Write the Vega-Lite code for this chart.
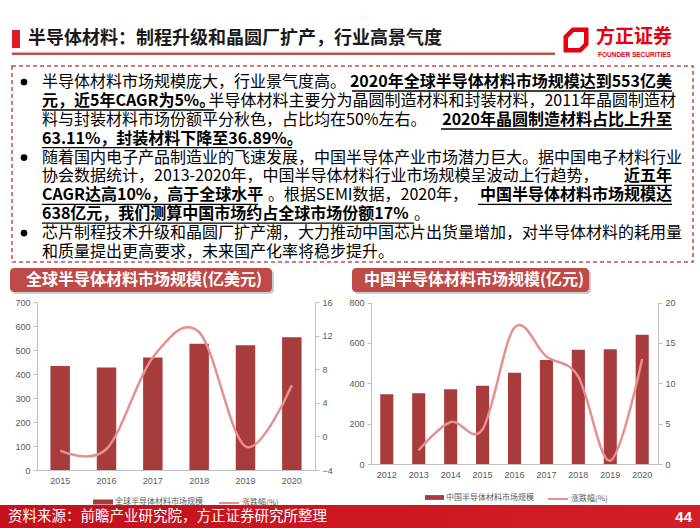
{
  "$schema": "https://vega.github.io/schema/vega-lite/v6.json",
  "width": 700,
  "height": 528,
  "autosize": {"type": "none"},
  "padding": 0,
  "background": "#FFFFFF",
  "config": {
    "view": {"stroke": null},
    "font": "Noto Sans CJK SC",
    "axis": {"grid": false, "domainColor": "#BFBFBF", "tickColor": "#BFBFBF", "labelColor": "#595959", "labelFont": "Liberation Sans", "labelFontSize": 9},
    "legend": {"labelFont": "Noto Sans CJK SC", "labelFontSize": 8, "labelColor": "#595959", "padding": 0, "labelOffset": 2}
  },
  "datasets": {
    "global": [
      {"year": "2015", "size": 433, "growth": -1.7},
      {"year": "2016", "size": 427, "growth": -1.5},
      {"year": "2017", "size": 469, "growth": 9.4},
      {"year": "2018", "size": 526, "growth": 12.4},
      {"year": "2019", "size": 520, "growth": -1.2},
      {"year": "2020", "size": 553, "growth": 6.1}
    ],
    "china": [
      {"year": "2012", "size": 345, "growth": null},
      {"year": "2013", "size": 351, "growth": 1.7},
      {"year": "2014", "size": 370, "growth": 5.2},
      {"year": "2015", "size": 388, "growth": 4.3},
      {"year": "2016", "size": 452, "growth": 16.9},
      {"year": "2017", "size": 515, "growth": 13.3},
      {"year": "2018", "size": 566, "growth": 10.8},
      {"year": "2019", "size": 568, "growth": 0.4},
      {"year": "2020", "size": 640, "growth": 13.0}
    ],
    "boldLeft": [
      {"line": 2, "text": "元，近5年CAGR为5%。"},
      {"line": 4, "text": "63.11%，封装材料下降至36.89%。"},
      {"line": 7, "text": "CAGR达高10%，高于全球水平"},
      {"line": 8, "text": "638亿元，我们测算中国市场约占全球市场份额17%"}
    ],
    "boldRight": [
      {"line": 1, "text": "2020年全球半导体材料市场规模达到553亿美"},
      {"line": 3, "text": "2020年晶圆制造材料占比上升至"},
      {"line": 6, "text": "近五年"},
      {"line": 7, "text": "中国半导体材料市场规模达"}
    ],
    "regLeft": [
      {"line": 1, "text": "半导体材料市场规模庞大，行业景气度高。"},
      {"line": 3, "text": "料与封装材料市场份额平分秋色，占比均在50%左右。"},
      {"line": 5, "text": "随着国内电子产品制造业的飞速发展，中国半导体产业市场潜力巨大。据中国电子材料行业"},
      {"line": 6, "text": "协会数据统计，2013-2020年，中国半导体材料行业市场规模呈波动上行趋势，"},
      {"line": 9, "text": "芯片制程技术升级和晶圆厂扩产潮，大力推动中国芯片出货量增加，对半导体材料的耗用量"},
      {"line": 10, "text": "和质量提出更高要求，未来国产化率将稳步提升。"}
    ],
    "regRight": [
      {"line": 2, "text": "半导体材料主要分为晶圆制造材料和封装材料，2011年晶圆制造材"}
    ],
    "regMid7": [{"line": 7, "text": "。根据SEMI数据，2020年，"}],
    "regMid8": [{"line": 8, "text": "。"}],
    "bullets": [{"line": 1}, {"line": 5}, {"line": 9}]
  },
  "layer": [
    {"data": {"values": [{}]}, "mark": {"type": "rect", "color": "#E01B22"},
     "encoding": {"x": {"value": 12}, "x2": {"value": 20}, "y": {"value": 30}, "y2": {"value": 48}}},
    {"data": {"values": [{}]}, "mark": {"type": "text", "align": "left", "baseline": "middle", "fontSize": 18, "fontWeight": "bold", "color": "#1A1A1A"},
     "encoding": {"x": {"value": 28}, "y": {"value": 39}, "text": {"value": "半导体材料：制程升级和晶圆厂扩产，行业高景气度"}}},
    {"data": {"values": [{}]}, "mark": {"type": "rect", "color": "#C0504D"},
     "encoding": {"x": {"value": 12}, "x2": {"value": 555}, "y": {"value": 52.5}, "y2": {"value": 55}}},
    {"data": {"values": [{}]}, "mark": {"type": "point", "shape": "M-0.3,-1L1,-1L1,0.4L0.4,1L-1,1L-1,-0.3Z", "filled": false, "stroke": "#E60012", "strokeWidth": 4.5, "size": 420, "opacity": 1},
     "encoding": {"x": {"value": 576}, "y": {"value": 40}}},
    {"data": {"values": [{}]}, "mark": {"type": "text", "align": "left", "baseline": "middle", "fontSize": 19, "fontWeight": "bold", "color": "#E60012"},
     "encoding": {"x": {"value": 596}, "y": {"value": 37}, "text": {"value": "方正证券"}}},
    {"data": {"values": [{}]}, "mark": {"type": "text", "align": "left", "baseline": "middle", "fontSize": 6.5, "fontWeight": "bold", "color": "#E60012", "font": "Liberation Sans"},
     "encoding": {"x": {"value": 598}, "y": {"value": 55}, "text": {"value": "FOUNDER SECURITIES"}}},
    {"data": {"values": [{}]}, "mark": {"type": "rect", "fillOpacity": 0, "stroke": "#C0504D", "strokeWidth": 1.5, "strokeDash": [4, 3]},
     "encoding": {"x": {"value": 12}, "x2": {"value": 693}, "y": {"value": 66}, "y2": {"value": 262}}},
    {"data": {"name": "bullets"}, "mark": {"type": "point", "shape": "circle", "filled": true, "color": "#000000", "size": 45, "opacity": 1},
     "encoding": {"x": {"value": 24}, "y": {"field": "line", "type": "quantitative", "scale": {"domain": [1, 10], "range": [82, 252]}, "axis": null}}},
    {"data": {"name": "regLeft"}, "mark": {"type": "text", "align": "left", "baseline": "middle", "fontSize": 16, "color": "#000000"},
     "encoding": {"x": {"value": 42}, "y": {"field": "line", "type": "quantitative", "scale": {"domain": [1, 10], "range": [82, 252]}, "axis": null}, "text": {"field": "text"}}},
    {"data": {"name": "regRight"}, "mark": {"type": "text", "align": "right", "baseline": "middle", "fontSize": 16, "color": "#000000"},
     "encoding": {"x": {"value": 676}, "y": {"field": "line", "type": "quantitative", "scale": {"domain": [1, 10], "range": [82, 252]}, "axis": null}, "text": {"field": "text"}}},
    {"data": {"name": "regMid7"}, "mark": {"type": "text", "align": "center", "baseline": "middle", "fontSize": 16, "color": "#000000"},
     "encoding": {"x": {"value": 368}, "y": {"field": "line", "type": "quantitative", "scale": {"domain": [1, 10], "range": [82, 252]}, "axis": null}, "text": {"field": "text"}}},
    {"data": {"name": "regMid8"}, "mark": {"type": "text", "align": "left", "baseline": "middle", "fontSize": 16, "color": "#000000"},
     "encoding": {"x": {"value": 414}, "y": {"field": "line", "type": "quantitative", "scale": {"domain": [1, 10], "range": [82, 252]}, "axis": null}, "text": {"field": "text"}}},
    {"data": {"name": "boldLeft"}, "mark": {"type": "text", "align": "left", "baseline": "middle", "fontSize": 16, "fontWeight": "bold", "color": "#000000"},
     "encoding": {"x": {"value": 42}, "y": {"field": "line", "type": "quantitative", "scale": {"domain": [1, 10], "range": [82, 252]}, "axis": null}, "text": {"field": "text"}}},
    {"data": {"name": "boldRight"}, "mark": {"type": "text", "align": "right", "baseline": "middle", "fontSize": 16, "fontWeight": "bold", "color": "#000000"},
     "encoding": {"x": {"value": 672}, "y": {"field": "line", "type": "quantitative", "scale": {"domain": [1, 10], "range": [82, 252]}, "axis": null}, "text": {"field": "text"}}},
    {"data": {"values": [{}]}, "mark": {"type": "rule", "color": "#000000", "strokeWidth": 1.3}, "encoding": {"x": {"value": 352}, "x2": {"value": 672}, "y": {"value": 91}}},
    {"data": {"values": [{}]}, "mark": {"type": "rule", "color": "#000000", "strokeWidth": 1.3}, "encoding": {"x": {"value": 42}, "x2": {"value": 214}, "y": {"value": 110}}},
    {"data": {"values": [{}]}, "mark": {"type": "rule", "color": "#000000", "strokeWidth": 1.3}, "encoding": {"x": {"value": 441}, "x2": {"value": 672}, "y": {"value": 129}}},
    {"data": {"values": [{}]}, "mark": {"type": "rule", "color": "#000000", "strokeWidth": 1.3}, "encoding": {"x": {"value": 42}, "x2": {"value": 292}, "y": {"value": 147.7}}},
    {"data": {"values": [{}]}, "mark": {"type": "rule", "color": "#000000", "strokeWidth": 1.3}, "encoding": {"x": {"value": 624}, "x2": {"value": 672}, "y": {"value": 185.4}}},
    {"data": {"values": [{}]}, "mark": {"type": "rule", "color": "#000000", "strokeWidth": 1.3}, "encoding": {"x": {"value": 42}, "x2": {"value": 258}, "y": {"value": 204.3}}},
    {"data": {"values": [{}]}, "mark": {"type": "rule", "color": "#000000", "strokeWidth": 1.3}, "encoding": {"x": {"value": 478}, "x2": {"value": 672}, "y": {"value": 204.3}}},
    {"data": {"values": [{}]}, "mark": {"type": "rule", "color": "#000000", "strokeWidth": 1.3}, "encoding": {"x": {"value": 42}, "x2": {"value": 414}, "y": {"value": 223.2}}},
    {"data": {"values": [{}]}, "mark": {"type": "rect", "color": "#9A9A9A", "opacity": 0.5, "cornerRadius": 4},
     "encoding": {"x": {"value": 12}, "x2": {"value": 274}, "y": {"value": 270}, "y2": {"value": 294}}},
    {"data": {"values": [{}]}, "mark": {"type": "rect", "color": "#BE4B48", "cornerRadius": 4},
     "encoding": {"x": {"value": 10}, "x2": {"value": 272}, "y": {"value": 268}, "y2": {"value": 292}}},
    {"data": {"values": [{}]}, "mark": {"type": "text", "align": "left", "baseline": "middle", "fontSize": 16, "fontWeight": "bold", "color": "#FFFFFF"},
     "encoding": {"x": {"value": 26}, "y": {"value": 280}, "text": {"value": "全球半导体材料市场规模(亿美元)"}}},
    {"data": {"values": [{}]}, "mark": {"type": "rect", "color": "#9A9A9A", "opacity": 0.5, "cornerRadius": 4},
     "encoding": {"x": {"value": 354}, "x2": {"value": 591}, "y": {"value": 270}, "y2": {"value": 294}}},
    {"data": {"values": [{}]}, "mark": {"type": "rect", "color": "#BE4B48", "cornerRadius": 4},
     "encoding": {"x": {"value": 352}, "x2": {"value": 589}, "y": {"value": 268}, "y2": {"value": 292}}},
    {"data": {"values": [{}]}, "mark": {"type": "text", "align": "left", "baseline": "middle", "fontSize": 16, "fontWeight": "bold", "color": "#FFFFFF"},
     "encoding": {"x": {"value": 364}, "y": {"value": 280}, "text": {"value": "中国半导体材料市场规模(亿元)"}}},
    {
      "data": {"name": "global"},
      "encoding": {
        "x": {"field": "year", "type": "ordinal", "title": null,
          "scale": {"range": [37, 315], "paddingInner": 0.58, "paddingOuter": 0.29},
          "axis": {"orient": "bottom", "offset": -58, "labelAngle": 0, "ticks": false, "labelPadding": 6}}
      },
      "layer": [
        {"mark": {"type": "bar", "color": "#A83C3C"},
         "encoding": {
           "y": {"field": "size", "type": "quantitative", "title": null,
             "scale": {"domain": [0, 700], "range": [470, 302], "nice": false},
             "axis": {"orient": "left", "offset": -37, "values": [0, 100, 200, 300, 400, 500, 600, 700], "tickSize": 4, "labelPadding": 3}},
           "fill": {"datum": "全球半导体材料市场规模", "type": "nominal", "scale": {"range": ["#A83C3C"]},
             "legend": {"orient": "none", "legendX": 93, "legendY": 492, "title": null, "symbolType": "M-1,-0.25H1V0.25H-1Z", "symbolSize": 400, "symbolStrokeWidth": 0}}
         }},
        {"mark": {"type": "line", "interpolate": "cardinal", "strokeWidth": 2.5, "color": "#E6908E"},
         "encoding": {
           "y": {"field": "growth", "type": "quantitative", "title": null,
             "scale": {"domain": [-4, 16], "range": [470, 302], "nice": false, "zero": false},
             "axis": {"orient": "right", "offset": -385, "values": [-4, 0, 4, 8, 12, 16], "tickSize": 4, "labelPadding": 3}},
           "stroke": {"datum": "涨跌幅(%)", "type": "nominal", "scale": {"range": ["#E6908E"]},
             "legend": {"orient": "none", "legendX": 218, "legendY": 492, "title": null, "symbolType": "stroke", "symbolSize": 400, "symbolStrokeWidth": 2}}
         }}
      ],
      "resolve": {"scale": {"y": "independent"}, "axis": {"y": "independent"}}
    },
    {
      "data": {"name": "china"},
      "encoding": {
        "x": {"field": "year", "type": "ordinal", "title": null,
          "scale": {"range": [371, 658], "paddingInner": 0.59, "paddingOuter": 0.29},
          "axis": {"orient": "bottom", "offset": -64, "labelAngle": 0, "ticks": false, "labelPadding": 6}}
      },
      "layer": [
        {"mark": {"type": "bar", "color": "#A83C3C"},
         "encoding": {
           "y": {"field": "size", "type": "quantitative", "title": null,
             "scale": {"domain": [0, 800], "range": [464, 302.5], "nice": false},
             "axis": {"orient": "left", "offset": -371, "values": [0, 200, 400, 600, 800], "tickSize": 4, "labelPadding": 3}},
           "fill": {"datum": "中国半导体材料市场规模", "type": "nominal", "scale": {"range": ["#A83C3C"]},
             "legend": {"orient": "none", "legendX": 425, "legendY": 488, "title": null, "symbolType": "M-1,-0.25H1V0.25H-1Z", "symbolSize": 361, "symbolStrokeWidth": 0}}
         }},
        {"mark": {"type": "line", "interpolate": "cardinal", "strokeWidth": 2.5, "color": "#E6908E"},
         "encoding": {
           "y": {"field": "growth", "type": "quantitative", "title": null,
             "scale": {"domain": [0, 20], "range": [464, 302.5], "nice": false},
             "axis": {"orient": "right", "offset": -42, "values": [0, 5, 10, 15, 20], "tickSize": 4, "labelPadding": 3}},
           "stroke": {"datum": "涨跌幅(%)", "type": "nominal", "scale": {"range": ["#E6908E"]},
             "legend": {"orient": "none", "legendX": 547, "legendY": 488, "title": null, "symbolType": "stroke", "symbolSize": 400, "symbolStrokeWidth": 2}}
         }}
      ],
      "resolve": {"scale": {"y": "independent"}, "axis": {"y": "independent"}}
    },
    {"data": {"values": [{}]}, "mark": {"type": "rect", "color": {"gradient": "linear", "x1": 0, "x2": 1, "y1": 0, "y2": 0, "stops": [{"offset": 0, "color": "#C4101C"}, {"offset": 1, "color": "#D31E28"}]}},
     "encoding": {"x": {"value": 0}, "x2": {"value": 700}, "y": {"value": 505}, "y2": {"value": 528}}},
    {"data": {"values": [{}]}, "mark": {"type": "text", "align": "left", "baseline": "middle", "fontSize": 14.5, "color": "#FFFFFF"},
     "encoding": {"x": {"value": 8}, "y": {"value": 517}, "text": {"value": "资料来源：前瞻产业研究院，方正证券研究所整理"}}},
    {"data": {"values": [{}]}, "mark": {"type": "text", "align": "right", "baseline": "middle", "fontSize": 15, "fontWeight": "bold", "color": "#FFFFFF", "font": "Liberation Sans"},
     "encoding": {"x": {"value": 692}, "y": {"value": 517}, "text": {"value": "44"}}}
  ],
  "resolve": {
    "scale": {"x": "independent", "y": "independent", "fill": "independent", "stroke": "independent"},
    "axis": {"x": "independent", "y": "independent"},
    "legend": {"fill": "independent", "stroke": "independent"}
  }
}
